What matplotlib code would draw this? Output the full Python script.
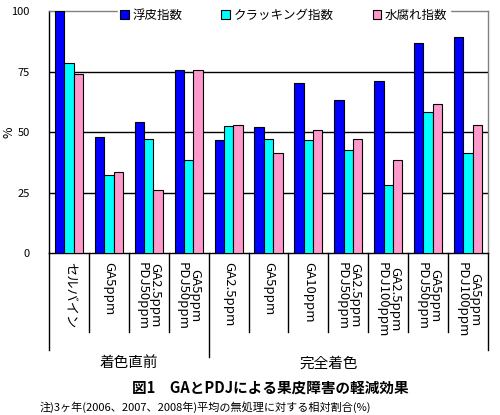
import numpy as np
import matplotlib
matplotlib.use("Agg")
import matplotlib.pyplot as plt

plt.rcParams["font.family"] = ["Noto Sans CJK JP", "DejaVu Sans"]

categories = ["セルバイン", "GA5ppm", "GA2.5ppm\nPDJ50ppm", "GA5ppm\nPDJ50ppm",
              "GA2.5ppm", "GA5ppm", "GA10ppm", "GA2.5ppm\nPDJ50ppm",
              "GA2.5ppm\nPDJ100ppm", "GA5ppm\nPDJ50ppm", "GA5ppm\nPDJ100ppm"]
series_names = ["浮皮指数", "クラッキング指数", "水腐れ指数"]
ukikawa = [100, 47.9, 54.1, 75.5, 46.6, 52.0, 70.2, 63.1, 71.0, 86.7, 89.5]
cracking = [78.4, 32.2, 47.0, 38.7, 52.4, 47.0, 46.6, 42.5, 28.1, 58.2, 41.3]
mizugusare = [73.9, 33.4, 26.3, 75.9, 52.8, 41.3, 50.8, 47.0, 38.4, 61.5, 52.8]
groups = ["着色直前", "完全着色"]
group_sizes = [4, 7]
yticks = [0, 25, 50, 75, 100]
title = "図1　GAとPDJによる果皮障害の軽減効果"
note = "注)3ヶ年(2006、2007、2008年)平均の無処理に対する相対割合(%)"

colors = ["#0000FF", "#00FFFF", "#FF99CC"]

fig = plt.figure(figsize=(5.0, 4.15), dpi=100)
ax = fig.add_axes([0.098, 0.39, 0.878, 0.583])

x = np.arange(len(categories))
w = 0.235
for i, (vals, c, name) in enumerate(zip([ukikawa, cracking, mizugusare], colors, series_names)):
    ax.bar(x + (i - 1) * w, vals, width=w, color=c, edgecolor="black",
           linewidth=0.8, label=name, zorder=3)

ax.set_xlim(-0.5, len(categories) - 0.5)
ax.set_ylim(0, 100)
ax.set_yticks(yticks)
ax.tick_params(axis="y", labelsize=8, length=0, pad=14)
ax.set_xticks([])
for yv in yticks[1:-1]:
    ax.axhline(yv, color="black", lw=1, zorder=1)
ax.set_ylabel("%", fontsize=9)
ax.yaxis.set_label_coords(-0.077, 0.5)

for s in ["left", "bottom"]:
    ax.spines[s].set_color("black")
    ax.spines[s].set_linewidth(1)
for s in ["top", "right"]:
    ax.spines[s].set_color("gray")
    ax.spines[s].set_linewidth(1)

# category labels, rotated
tr = ax.get_xaxis_transform()
for xi, lab in zip(x, categories):
    ax.text(xi, -0.035, lab, transform=tr, rotation=270, ha="center", va="top",
            fontsize=9.5, linespacing=0.95)

# divider lines below the axis
major = np.cumsum([0] + group_sizes) - 0.5
for b in np.arange(-0.5, len(categories)):
    if b in major:
        depth = -0.43 if 0 < b < len(categories) - 1 else -0.40
    else:
        depth = -0.325
    ax.plot([b, b], [0, depth], transform=tr, color="black", lw=1, clip_on=False)

# group labels
ax.text(1.5, -0.455, groups[0], transform=tr, ha="center", va="center", fontsize=10.5)
ax.text(6.5, -0.455, groups[1], transform=tr, ha="center", va="center", fontsize=10.5)

leg = ax.legend(loc="center", bbox_to_anchor=(0.535, 0.983), ncol=3, fontsize=9,
                frameon=True, facecolor="white", edgecolor="white", framealpha=1,
                fancybox=False, handlelength=0.7, handleheight=0.7,
                handletextpad=0.3, columnspacing=3.1, borderpad=0.2)

fig.text(0.54, 0.067, title, ha="center", va="center", fontsize=10.5, fontweight="bold")
fig.text(0.41, 0.02, note, ha="center", va="center", fontsize=8)

fig.savefig("out.png", dpi=100)
